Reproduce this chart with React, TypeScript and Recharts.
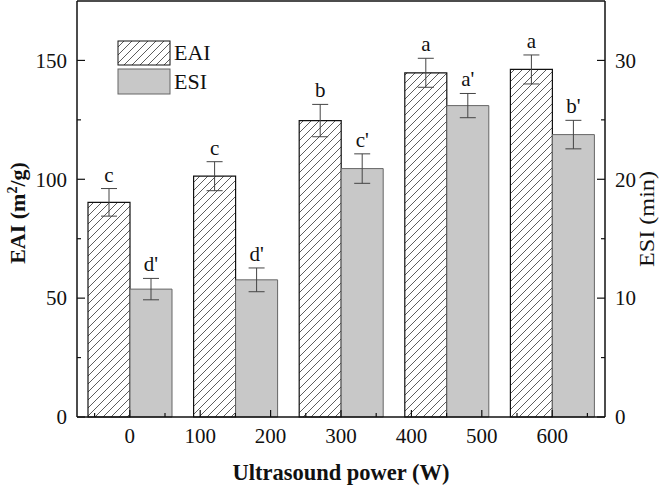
import {
  BarChart,
  Bar,
  XAxis,
  YAxis,
  ErrorBar,
  LabelList,
  Legend,
  ReferenceLine,
  Label
} from "recharts"

// ultrasound power groups (W), placed on the numeric x axis
const powers = [0, 150, 300, 450, 600]

// emulsifying activity index, m2/g
const eaiValues = [90.3, 101.3, 124.7, 144.8, 146.2]
const eaiErrors = [5.8, 6.1, 6.8, 6.1, 6.1]
const eaiLetters = ["c", "c", "b", "a", "a"]

// emulsion stability index, min
const esiValues = [10.76, 11.54, 20.9, 26.2, 23.76]
const esiErrors = [0.9, 1.0, 1.24, 1.02, 1.2]
const esiLetters = ["d'", "d'", "c'", "a'", "b'"]

// tick labels
const xMajorTicks = [0, 100, 200, 300, 400, 500, 600]
const xMinorTicks = [-50, 50, 150, 250, 350, 450, 550, 650]
const eaiMajorTicks = [0, 50, 100, 150]
const eaiMinorTicks = [25, 75, 125]
const esiMajorTicks = [0, 10, 20, 30]
const esiMinorTicks = [5, 15, 25]

const data = powers.map((p, i) => ({
  power: p,
  eai: eaiValues[i],
  eaiErr: eaiErrors[i],
  esi: esiValues[i],
  esiErr: esiErrors[i]
}))

const FONT = "'Liberation Serif', 'Times New Roman', serif"
const INK = "#111"

const XTick = (props: any) => {
  const { x, y, payload } = props
  const major = xMajorTicks.includes(payload.value)
  return (
    <g>
      <line x1={x} x2={x} y1={y} y2={y - (major ? 7 : 4)} stroke={INK} strokeWidth={1.2} />
      {major && (
        <text x={x} y={y + 26} textAnchor="middle" fontFamily={FONT} fontSize={21} fill={INK}>
          {payload.value}
        </text>
      )}
    </g>
  )
}

const makeYTick = (majors: number[], side: "left" | "right") => (props: any) => {
  const { x, y, payload } = props
  const major = majors.includes(payload.value)
  const dir = side === "left" ? 1 : -1
  return (
    <g>
      <line x1={x} x2={x + dir * (major ? 8 : 4)} y1={y} y2={y} stroke={INK} strokeWidth={1.2} />
      {major && (
        <text
          x={x - dir * 10}
          y={y}
          dy="0.35em"
          textAnchor={side === "left" ? "end" : "start"}
          fontFamily={FONT}
          fontSize={21}
          fill={INK}
        >
          {payload.value}
        </text>
      )}
    </g>
  )
}

// significance letter above the error bar cap
const makeLetter = (values: number[], errors: number[], letters: string[]) => (props: any) => {
  const { x, y, width, height, index } = props
  const perUnit = height / values[index]
  const capY = y - errors[index] * perUnit
  return (
    <text
      x={x + width / 2}
      y={capY - 7}
      textAnchor="middle"
      fontFamily={FONT}
      fontSize={21}
      fill={INK}
    >
      {letters[index]}
    </text>
  )
}

const LeftTitle = (props: any) => {
  const { viewBox } = props
  const cx = 17
  const cy = viewBox.y + viewBox.height / 2 + 4
  return (
    <text
      x={cx}
      y={cy}
      transform={`rotate(-90, ${cx}, ${cy})`}
      textAnchor="middle"
      dy="0.35em"
      fontFamily={FONT}
      fontSize={22}
      fontWeight="bold"
      fill={INK}
    >
      EAI (m<tspan dy={-8} fontSize={14}>2</tspan>
      <tspan dy={8}>/g)</tspan>
    </text>
  )
}

const RightTitle = (props: any) => {
  const { viewBox } = props
  const cx = 647
  const cy = viewBox.y + viewBox.height / 2 + 10
  return (
    <text
      x={cx}
      y={cy}
      transform={`rotate(-90, ${cx}, ${cy})`}
      textAnchor="middle"
      dy="0.35em"
      fontFamily={FONT}
      fontSize={21}
      textLength={96}
      lengthAdjust="spacingAndGlyphs"
      fill={INK}
    >
      ESI (min)
    </text>
  )
}

const BottomTitle = (props: any) => {
  const { viewBox } = props
  return (
    <text
      x={viewBox.x + viewBox.width / 2}
      y={viewBox.y + 63}
      textAnchor="middle"
      fontFamily={FONT}
      fontSize={22.5}
      fontWeight="bold"
      fill={INK}
    >
      Ultrasound power (W)
    </text>
  )
}

const LegendBox = () => (
  <svg width={110} height={56} style={{ display: "block" }}>
    <defs>
      <pattern id="hatchLegend" patternUnits="userSpaceOnUse" width={8} height={8}>
        <rect width={8} height={8} fill="#fff" />
        <path d="M-2,2 l4,-4 M0,8 l8,-8 M6,10 l4,-4" stroke="#333" strokeWidth={0.8} />
      </pattern>
    </defs>
    <rect x={1} y={1} width={52} height={24} fill="url(#hatchLegend)" stroke={INK} strokeWidth={1} />
    <rect x={1} y={29} width={52} height={25} fill="#c8c8c8" stroke="#666" strokeWidth={1} />
    <text x={57} y={20} fontFamily={FONT} fontSize={22} fill={INK}>EAI</text>
    <text x={57} y={49} fontFamily={FONT} fontSize={22} fill={INK}>ESI</text>
  </svg>
)

export default function App() {
  return (
    <div style={{ position: "absolute", left: 0, top: 0, background: "#fff" }}>
      <BarChart
        width={661}
        height={485}
        data={data}
        margin={{ top: 1, right: 0, left: 0, bottom: 0 }}
        barSize={42}
        barGap={0}
      >
        <defs>
          <pattern id="hatch" patternUnits="userSpaceOnUse" width={8} height={8}>
            <rect width={8} height={8} fill="#fff" />
            <path d="M-2,2 l4,-4 M0,8 l8,-8 M6,10 l4,-4" stroke="#333" strokeWidth={0.8} />
          </pattern>
        </defs>

        <XAxis
          dataKey="power"
          type="number"
          domain={[-75, 675]}
          allowDataOverflow
          ticks={[...xMinorTicks, ...xMajorTicks].sort((a, b) => a - b)}
          interval={0}
          tickSize={0}
          tickMargin={0}
          tickLine={false}
          tick={XTick}
          height={68}
          axisLine={{ stroke: INK, strokeWidth: 1.5 }}
        >
          <Label content={BottomTitle} />
        </XAxis>

        <YAxis
          yAxisId="left"
          domain={[0, 175]}
          ticks={[...eaiMajorTicks, ...eaiMinorTicks].sort((a, b) => a - b)}
          interval={0}
          width={77}
          tickSize={0}
          tickMargin={0}
          tickLine={false}
          tick={makeYTick(eaiMajorTicks, "left")}
          axisLine={{ stroke: INK, strokeWidth: 1.5 }}
        >
          <Label content={LeftTitle} />
        </YAxis>
        <YAxis
          yAxisId="right"
          orientation="right"
          domain={[0, 35]}
          ticks={[...esiMajorTicks, ...esiMinorTicks].sort((a, b) => a - b)}
          interval={0}
          width={56}
          tickSize={0}
          tickMargin={0}
          tickLine={false}
          tick={makeYTick(esiMajorTicks, "right")}
          axisLine={{ stroke: INK, strokeWidth: 1.5 }}
        >
          <Label content={RightTitle} />
        </YAxis>

        <ReferenceLine yAxisId="left" y={175} stroke={INK} strokeWidth={1.5} />

        <Legend
          layout="horizontal"
          verticalAlign="middle"
          align="center"
          content={LegendBox}
          wrapperStyle={{ position: "absolute", left: 117, top: 40, width: 110, height: 56 }}
        />

        <Bar
          dataKey="eai"
          yAxisId="left"
          fill="url(#hatch)"
          stroke={INK}
          strokeWidth={1.2}
          isAnimationActive={false}
        >
          <ErrorBar dataKey="eaiErr" direction="y" width={8} stroke="#444" strokeWidth={1} />
          <LabelList dataKey="eai" content={makeLetter(eaiValues, eaiErrors, eaiLetters)} />
        </Bar>
        <Bar
          dataKey="esi"
          yAxisId="right"
          fill="#c8c8c8"
          stroke="#666"
          strokeWidth={1}
          isAnimationActive={false}
        >
          <ErrorBar dataKey="esiErr" direction="y" width={8} stroke="#444" strokeWidth={1} />
          <LabelList dataKey="esi" content={makeLetter(esiValues, esiErrors, esiLetters)} />
        </Bar>
      </BarChart>
    </div>
  )
}
